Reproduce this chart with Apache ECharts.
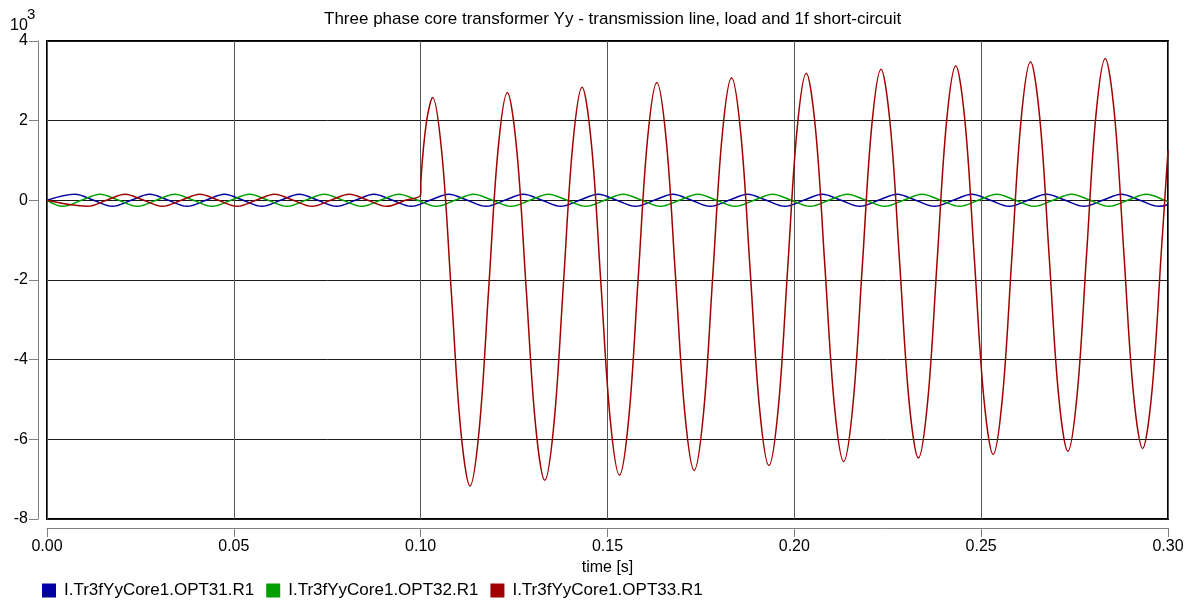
<!DOCTYPE html>
<html>
<head>
<meta charset="utf-8">
<script src="https://cdn.jsdelivr.net/npm/echarts@6/dist/echarts.min.js"></script>
<style>
  html, body { margin: 0; padding: 0; background: #fff; }
  #chart { width: 1198px; height: 601px; }
</style>
</head>
<body>
<div id="chart"></div>
<script>
// values in 10^3 A, time in s (extrema and zero crossings)
const seriesNames = ['I.Tr3fYyCore1.OPT31.R1', 'I.Tr3fYyCore1.OPT32.R1', 'I.Tr3fYyCore1.OPT33.R1']
const xTicks = ['0.00', '0.05', '0.10', '0.15', '0.20', '0.25', '0.30']

const blueTime = [0, 0.0075, 0.0125, 0.0175, 0.0225, 0.0275, 0.0325, 0.0375, 0.0425, 0.0475, 0.0525,
  0.0575, 0.0625, 0.0675, 0.0725, 0.0775, 0.0825, 0.0875, 0.0925, 0.0975, 0.1025, 0.1075, 0.1125,
  0.1175, 0.1225, 0.1275, 0.1325, 0.1375, 0.1425, 0.1475, 0.1525, 0.1575, 0.1625, 0.1675, 0.1725,
  0.1775, 0.1825, 0.1875, 0.1925, 0.1975, 0.2025, 0.2075, 0.2125, 0.2175, 0.2225, 0.2275, 0.2325,
  0.2375, 0.2425, 0.2475, 0.2525, 0.2575, 0.2625, 0.2675, 0.2725, 0.2775, 0.2825, 0.2875, 0.2925,
  0.2975, 0.3]
const blueCurrent = [0, 0.15, 0, -0.15, 0, 0.15, 0, -0.15, 0, 0.15, 0, -0.15, 0, 0.15, 0, -0.15, 0,
  0.15, 0, -0.15, 0, 0.15, 0, -0.15, 0, 0.15, 0, -0.15, 0, 0.15, 0, -0.15, 0, 0.15, 0, -0.15, 0,
  0.15, 0, -0.15, 0, 0.15, 0, -0.15, 0, 0.15, 0, -0.15, 0, 0.15, 0, -0.15, 0, 0.15, 0, -0.15, 0,
  0.15, 0, -0.15, -0.11]

const greenTime = [0, 0.0042, 0.0092, 0.0142, 0.0192, 0.0242, 0.0292, 0.0342, 0.0392, 0.0442, 0.0492,
  0.0542, 0.0592, 0.0642, 0.0692, 0.0742, 0.0792, 0.0842, 0.0892, 0.0942, 0.0992, 0.1042, 0.1092,
  0.1142, 0.1192, 0.1242, 0.1292, 0.1342, 0.1392, 0.1442, 0.1492, 0.1542, 0.1592, 0.1642, 0.1692,
  0.1742, 0.1792, 0.1842, 0.1892, 0.1942, 0.1992, 0.2042, 0.2092, 0.2142, 0.2192, 0.2242, 0.2292,
  0.2342, 0.2392, 0.2442, 0.2492, 0.2542, 0.2592, 0.2642, 0.2692, 0.2742, 0.2792, 0.2842, 0.2892,
  0.2942, 0.2992, 0.3]
const greenCurrent = [0, -0.15, 0, 0.15, 0, -0.15, 0, 0.15, 0, -0.15, 0, 0.15, 0, -0.15, 0, 0.15, 0,
  -0.15, 0, 0.15, 0, -0.15, 0, 0.15, 0, -0.15, 0, 0.15, 0, -0.15, 0, 0.15, 0, -0.15, 0, 0.15, 0,
  -0.15, 0, 0.15, 0, -0.15, 0, 0.15, 0, -0.15, 0, 0.15, 0, -0.15, 0, 0.15, 0, -0.15, 0, 0.15, 0,
  -0.15, 0, 0.15, 0, -0.04]

const redTime = [0, 0.0109, 0.0159, 0.0209, 0.0259, 0.0309, 0.0359, 0.0409, 0.0459, 0.0509, 0.0559,
  0.0609, 0.0659, 0.0709, 0.0759, 0.0809, 0.0859, 0.0909, 0.0959, 0.1,
  0.1001, 0.1016, 0.1032, 0.1057, 0.1082, 0.1107, 0.1132, 0.1157, 0.1182, 0.1207,
  0.1232, 0.1257, 0.1282, 0.1307, 0.1332, 0.1357, 0.1382, 0.1407, 0.1432, 0.1457, 0.1482, 0.1507,
  0.1532, 0.1557, 0.1582, 0.1607, 0.1632, 0.1657, 0.1682, 0.1707, 0.1732, 0.1757, 0.1782, 0.1807,
  0.1832, 0.1857, 0.1882, 0.1907, 0.1932, 0.1957, 0.1982, 0.2007, 0.2032, 0.2057, 0.2082, 0.2107,
  0.2132, 0.2157, 0.2182, 0.2207, 0.2232, 0.2257, 0.2282, 0.2307, 0.2332, 0.2357, 0.2382, 0.2407,
  0.2432, 0.2457, 0.2482, 0.2507, 0.2532, 0.2557, 0.2582, 0.2607, 0.2632, 0.2657, 0.2682, 0.2707,
  0.2732, 0.2757, 0.2782, 0.2807, 0.2832, 0.2857, 0.2882, 0.2907, 0.2932, 0.2957, 0.2982, 0.3]
const redCurrent = [0, -0.15, 0, 0.15, 0, -0.15, 0, 0.15, 0, -0.15, 0, 0.15, 0, -0.15, 0, 0.15, 0,
  -0.15, 0, 0.14,
  0.55, 2.0, 2.58, 1.15, -2.30, -5.74, -7.17, -5.72, -2.23, 1.26,
  2.71, 1.28, -2.16, -5.60, -7.03, -5.58, -2.10, 1.39, 2.84, 1.41, -2.03, -5.47,
  -6.90, -5.46, -1.97, 1.52, 2.96, 1.53, -1.91, -5.35, -6.78, -5.34, -1.85, 1.64,
  3.08, 1.65, -1.79, -5.23, -6.66, -5.22, -1.74, 1.75, 3.19, 1.76, -1.69, -5.13,
  -6.56, -5.12, -1.64, 1.85, 3.29, 1.86, -1.59, -5.04, -6.47, -5.03, -1.55, 1.94,
  3.38, 1.95, -1.50, -4.95, -6.38, -4.94, -1.45, 2.04, 3.48, 2.05, -1.41, -4.87,
  -6.30, -4.86, -1.37, 2.12, 3.56, 2.13, -1.34, -4.80, -6.23, -4.80, -1.31, 1.25]

const colors = ['#0000a0', '#00a000', '#a00000']
const font = 'Liberation Sans, Arial, sans-serif'

function zip(t, v) {
  return t.map((x, i) => [x, v[i]])
}

function makeLine(name, t, v, color) {
  return {
    name: name,
    type: 'line',
    smooth: 0.35,
    showSymbol: false,
    symbol: 'none',
    lineStyle: { color: color, width: 1.5 },
    itemStyle: { color: color },
    data: zip(t, v)
  }
}

const chart = echarts.init(document.getElementById('chart'))
chart.setOption({
  animation: false,
  color: colors,
  textStyle: { fontFamily: font },
  title: {
    text: 'Three phase core transformer Yy - transmission line, load and 1f short-circuit',
    left: 319,
    top: 6,
    textStyle: { fontSize: 17, fontWeight: 'normal', color: '#000', fontFamily: font }
  },
  graphic: [
    { type: 'text', left: 10, top: 18, style: { text: '10', fontSize: 16, fill: '#000', fontFamily: font } },
    { type: 'text', left: 27, top: 7, style: { text: '3', fontSize: 15, fill: '#000', fontFamily: font } }
  ],
  grid: {
    left: 47,
    right: 30,
    top: 41,
    bottom: 82,
    show: true,
    borderColor: '#000',
    borderWidth: 2
  },
  legend: {
    data: seriesNames,
    left: 37,
    top: 577,
    icon: 'rect',
    itemWidth: 14,
    itemHeight: 14,
    itemGap: 12,
    textStyle: { fontSize: 17, color: '#000', fontFamily: font, padding: [0, 0, 0, 3] }
  },
  xAxis: {
    type: 'value',
    min: 0,
    max: 0.3,
    interval: 0.05,
    offset: 9,
    name: 'time [s]',
    nameLocation: 'middle',
    nameGap: 29,
    nameTextStyle: { fontSize: 16, color: '#000' },
    axisLine: { show: true, onZero: false, lineStyle: { color: '#808080', width: 1 } },
    axisTick: { show: true, length: 9, lineStyle: { color: '#808080' } },
    axisLabel: {
      fontSize: 16,
      color: '#000',
      margin: 11,
      formatter: v => xTicks[Math.round(v / 0.05)]
    },
    splitLine: { show: true, lineStyle: { color: '#555', width: 1 } }
  },
  yAxis: {
    type: 'value',
    min: -8,
    max: 4,
    interval: 2,
    offset: 9,
    axisLine: { show: true, onZero: false, lineStyle: { color: '#808080', width: 1 } },
    axisTick: { show: true, length: 9, lineStyle: { color: '#808080' } },
    axisLabel: { fontSize: 16, color: '#000', margin: 10 },
    splitLine: { show: true, lineStyle: { color: '#1a1a1a', width: 1 } }
  },
  series: [
    makeLine(seriesNames[0], blueTime, blueCurrent, colors[0]),
    makeLine(seriesNames[1], greenTime, greenCurrent, colors[1]),
    makeLine(seriesNames[2], redTime, redCurrent, colors[2])
  ]
})
</script>
</body>
</html>
